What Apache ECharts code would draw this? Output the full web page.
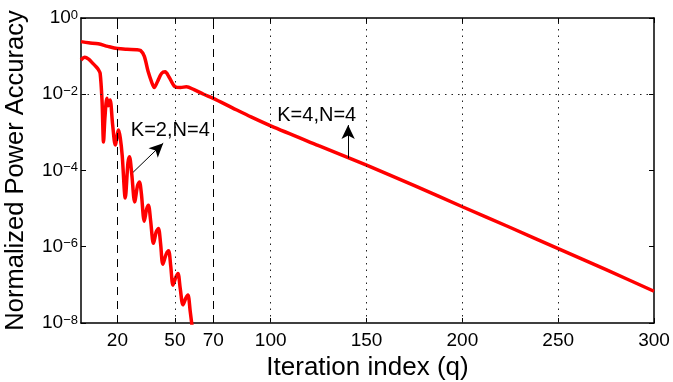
<!DOCTYPE html>
<html>
<head>
<meta charset="utf-8">
<script src="https://cdn.jsdelivr.net/npm/echarts@6/dist/echarts.min.js"></script>
<style>
html, body { margin: 0; padding: 0; background: #fff; }
#chart { width: 673px; height: 382px; }
</style>
</head>
<body>
<div id="chart"></div>
<script>
// tick positions / grid lines
var xTicks = [20, 50, 70, 100, 150, 200, 250, 300];
var dashedX = [20, 70];
var dottedX = [50, 100, 150, 200, 250];
var dottedY = [1e-2, 1e-4, 1e-6];

// K=2,N=4 curve
var k2Iter = [1, 3, 5, 7, 9, 10, 11, 12, 12.75, 13.5, 14.5, 15.3, 16.2, 17.5, 18.9, 20.6, 21.5, 22.5,
  24.1, 25.5, 26.3, 27.5, 29, 30.5, 31.5, 32.5, 34, 35.3, 36.2, 37.3, 38.8, 40.3, 41.4, 42.5,
  43.7, 45.4, 46.7, 47.8, 49, 50.5, 51.6, 52.8, 54.2, 55.7, 56.8, 58, 59.5];
var k2Acc = [0.079, 0.093, 0.083, 0.066, 0.052, 0.045, 0.035, 6.3e-3, 5.6e-4, 2.5e-3, 7.8e-3, 5.0e-3, 7.1e-3, 1.6e-3, 4.7e-4, 1.15e-3, 7.1e-4, 2.5e-4,
  1.9e-5, 1.6e-4, 2.3e-4, 7.9e-5, 1.5e-5, 4.0e-5, 5.0e-5, 2.5e-5, 4.7e-6, 1.0e-5, 1.23e-5, 5.0e-6, 1.23e-6, 2.5e-6, 3.0e-6, 1.26e-6,
  3.5e-7, 6.3e-7, 7.8e-7, 3.2e-7, 9.8e-8, 1.6e-7, 2.0e-7, 7.9e-8, 3.0e-8, 4.5e-8, 5.4e-8, 2.0e-8, 5e-9];

// K=4,N=4 curve
var k4Iter = [1, 5, 10, 15, 20, 25, 30, 32, 34, 36, 38, 39.2, 41, 43, 44.9, 47, 50, 53, 56, 60, 65, 70,
  80, 90, 100, 125, 150, 175, 200, 225, 250, 275, 300];
var k4Acc = [0.24, 0.224, 0.21, 0.18, 0.158, 0.151, 0.148, 0.141, 0.1, 0.04, 0.02, 0.015, 0.022, 0.035, 0.039, 0.028, 0.0158, 0.015, 0.0158, 0.0132, 0.01, 0.0078,
  4.4e-3, 2.5e-3, 1.48e-3, 4.5e-4, 1.38e-4, 4.0e-5, 1.12e-5, 3.2e-6, 8.9e-7, 2.5e-7, 6.8e-8];

var FONT = 'Liberation Sans';

function pairs(xs, ys) {
  return xs.map(function (x, i) { return [x, ys[i]]; });
}

var gridLines = [];
dashedX.forEach(function (v) {
  gridLines.push({ xAxis: v, lineStyle: { type: [8, 6], color: '#000', width: 1 } });
});
dottedX.forEach(function (v) {
  gridLines.push({ xAxis: v, lineStyle: { type: [1.5, 5], color: '#222', width: 1 } });
});
dottedY.forEach(function (v) {
  gridLines.push({ yAxis: v, lineStyle: { type: [1.5, 5], color: '#222', width: 1 } });
});

var myChart = echarts.init(document.getElementById('chart'));

var xAxisBase = {
  type: 'value',
  min: 1,
  max: 300,
  splitLine: { show: false },
  axisLine: { show: true, onZero: false, lineStyle: { color: '#000', width: 1.5 } },
  axisTick: { show: true, inside: true, length: 5, customValues: xTicks, lineStyle: { color: '#000' } }
};

var yAxisBase = {
  type: 'log',
  logBase: 10,
  min: 1e-8,
  max: 1,
  interval: 2,
  splitLine: { show: false },
  axisLine: { show: true, lineStyle: { color: '#000', width: 1.5 } },
  axisTick: { show: true, inside: true, length: 5, lineStyle: { color: '#000' } }
};

option = {
  animation: false,
  backgroundColor: '#fff',
  grid: { left: 81, right: 19, top: 18, bottom: 59, containLabel: false, outerBoundsMode: 'none' },
  xAxis: [
    Object.assign({}, xAxisBase, {
      position: 'bottom',
      name: 'Iteration index (q)',
      nameLocation: 'middle',
      nameGap: 23,
      nameTextStyle: { fontFamily: FONT, fontSize: 26, color: '#000' },
      axisLabel: { show: true, customValues: xTicks, margin: 8, fontFamily: FONT, fontSize: 19, color: '#000' }
    }),
    Object.assign({}, xAxisBase, {
      position: 'top',
      axisLabel: { show: false }
    })
  ],
  yAxis: [
    Object.assign({}, yAxisBase, {
      position: 'left',
      name: 'Normalized Power Accuracy',
      nameLocation: 'middle',
      nameGap: 52,
      nameRotate: 90,
      nameTextStyle: { fontFamily: FONT, fontSize: 25.5, color: '#000' },
      axisLabel: {
        show: true,
        margin: 3,
        formatter: function (v) {
          var e = Math.round(Math.log(v) / Math.LN10);
          return '{b|10}{s|' + (e < 0 ? '\u2212' + (-e) : e) + '}';
        },
        rich: {
          b: { fontFamily: FONT, fontSize: 19, color: '#000', lineHeight: 19, verticalAlign: 'bottom' },
          s: { fontFamily: FONT, fontSize: 13, color: '#000', lineHeight: 13, verticalAlign: 'top', padding: [0, 0, 10, 0] }
        }
      }
    }),
    Object.assign({}, yAxisBase, {
      position: 'right',
      axisLabel: { show: false }
    })
  ],
  series: [
    {
      name: 'grid',
      type: 'line',
      data: [],
      z: 1,
      silent: true,
      markLine: {
        silent: true,
        symbol: ['none', 'none'],
        label: { show: false },
        animation: false,
        data: gridLines
      }
    },
    {
      name: 'K=4,N=4',
      type: 'line',
      data: pairs(k4Iter, k4Acc),
      smooth: 0.3,
      showSymbol: false,
      z: 3,
      lineStyle: { color: '#ff0000', width: 3.5 },
      itemStyle: { color: '#ff0000' }
    },
    {
      name: 'K=2,N=4',
      type: 'line',
      data: pairs(k2Iter, k2Acc),
      smooth: 0.3,
      showSymbol: false,
      z: 3,
      lineStyle: { color: '#ff0000', width: 3.5 },
      itemStyle: { color: '#ff0000' }
    },
    {
      name: 'notes',
      type: 'line',
      data: [],
      z: 5,
      silent: true,
      markLine: {
        silent: true,
        symbol: ['none', 'arrow'],
        symbolSize: [10, 14],
        label: { show: false },
        lineStyle: { color: '#000', width: 1, type: 'solid' },
        animation: false,
        data: [
          [{ coord: [28.2, 9e-5] }, { coord: [43.9, 5.2e-4] }],
          [{ coord: [140.4, 2.1e-4] }, { coord: [140.4, 1.55e-3] }]
        ]
      },
      markPoint: {
        silent: true,
        symbol: 'rect',
        symbolSize: 1,
        itemStyle: { color: 'rgba(0,0,0,0)' },
        label: {
          show: true,
          position: 'inside',
          formatter: '{b}',
          fontFamily: FONT,
          fontSize: 20,
          color: '#000'
        },
        animation: false,
        data: [
          { name: 'K=2,N=4', coord: [47.6, 1.15e-3] },
          { name: 'K=4,N=4', coord: [124.0, 2.8e-3] }
        ]
      }
    }
  ]
};

myChart.setOption(option);
</script>
</body>
</html>
